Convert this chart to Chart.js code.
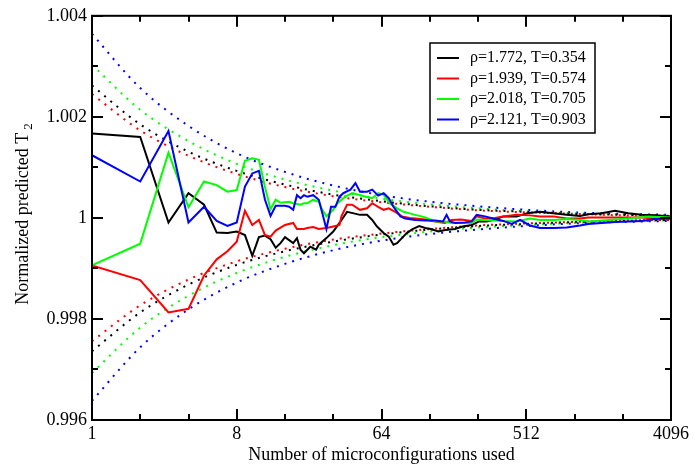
<!DOCTYPE html>
<html>
<head>
<meta charset="utf-8">
<script src="https://cdn.jsdelivr.net/npm/chart.js@4.4.1/dist/chart.umd.min.js"></script>
<style>
  html, body { margin: 0; padding: 0; background: #fff; }
  #wrap { width: 694px; height: 466px; }
</style>
</head>
<body>
<div id="wrap"><canvas id="chart"></canvas></div>
<script>
// axis ticks
const xTicks = [1, 8, 64, 512, 4096];
const xMinorTicks = [2, 4, 16, 32, 128, 256, 1024, 2048];
const yTicks = [0.996, 0.998, 1, 1.002, 1.004];
const yMinorTicks = [0.997, 0.999, 1.001, 1.003];

const seriesLabels = ['ρ=1.772, T=0.354', 'ρ=1.939, T=0.574', 'ρ=2.018, T=0.705', 'ρ=2.121, T=0.903'];

// rho=1.772 (black)
const blackN = [1, 2, 3, 4, 5, 6, 7, 8, 9, 10, 11, 12, 13, 14, 15, 16,
  18, 19, 20, 21, 23, 25, 26, 29, 32, 35, 39, 43, 47, 52, 56, 60, 66, 71, 76, 80, 84, 92,
  100, 110, 120, 130, 145, 160, 184, 205, 234, 260, 290, 330,
  368, 446, 520, 624, 755, 915, 1108,
  1249, 1514, 1832, 2218, 2688, 3254, 4096];
const blackVals = [1.00167, 1.00160, 0.99991, 1.00049, 1.00026, 0.99971, 0.99970, 0.99973, 0.99966, 0.99925, 0.99962, 0.99965, 0.99958, 0.99941, 0.99950, 0.99962,
  0.99950, 0.99960, 0.99937, 0.99930, 0.99943, 0.99937, 0.99947, 0.99960, 0.99973, 0.99990, 1.00012, 1.00009, 1.00006, 1.00006, 0.99996, 0.99983, 0.99970, 0.99963, 0.99947, 0.99950, 0.99957, 0.99970,
  0.99978, 0.99984, 0.99980, 0.99978, 0.99973, 0.99976, 0.99978, 0.99983, 0.99986, 0.99993, 0.99993, 0.99997,
  1.00003, 1.00003, 1.00009, 1.00012, 1.00009, 1.00006, 1.00004,
  1.00007, 1.00009, 1.00014, 1.00009, 1.00006, 1.00005, 1.00003];

// rho=1.939 (red)
const redN = [1, 2, 3, 4, 5, 6, 7, 8, 9, 10, 11, 12, 13, 14,
  16, 18, 19, 21, 22, 24, 26, 29, 32, 35, 36, 39, 42, 47, 52, 56, 61, 66, 71, 78, 86, 96,
  104, 120, 138, 159, 175, 200, 234, 251, 283, 327,
  368, 446, 540, 624, 755, 915, 1108,
  1249, 1832, 2688, 3254, 4096];
const redVals = [0.99906, 0.99877, 0.99813, 0.99820, 0.99886, 0.99918, 0.99934, 0.99953, 1.00014, 0.99986, 0.99996, 0.99966, 0.99963, 0.99975,
  0.99986, 0.99990, 0.99978, 0.99978, 0.99980, 0.99982, 0.99978, 0.99980, 0.99983, 0.99986, 1.00003, 1.00026, 1.00026, 1.00016, 1.00019, 1.00029, 1.00022, 1.00016, 1.00019, 1.00012, 1.00003, 1.00000,
  0.99999, 0.99997, 0.99993, 0.99990, 0.99996, 0.99997, 0.99994, 1.00003, 0.99999, 1.00000,
  1.00003, 1.00006, 1.00005, 1.00003, 1.00003, 0.99999, 0.99999,
  1.00001, 1.00001, 1.00001, 0.99999, 0.99999];

// rho=2.018 (green)
const greenN = [1, 2, 3, 4, 5, 6, 7, 8, 9, 10, 11, 12, 13, 14, 15,
  17, 18, 20, 21, 22, 24, 26, 27, 29, 32, 34, 38, 42, 46, 51, 56, 61, 66, 72, 80, 88, 96,
  104, 120, 138, 159, 175, 200, 234, 251, 283, 327,
  368, 446, 540, 624, 755, 915, 1108,
  1249, 1676, 2218, 2956, 4096];
const greenVals = [0.99906, 0.99949, 1.00129, 1.00021, 1.00072, 1.00065, 1.00052, 1.00055, 1.00113, 1.00118, 1.00115, 1.00061, 1.00017, 1.00036, 1.00030,
  1.00032, 1.00029, 1.00026, 1.00029, 1.00029, 1.00036, 1.00032, 1.00019, 1.00003, 1.00016, 1.00029, 1.00042, 1.00049, 1.00046, 1.00042, 1.00039, 1.00049, 1.00046, 1.00029, 1.00019, 1.00012, 1.00009,
  1.00006, 1.00001, 0.99993, 0.99993, 0.99990, 0.99990, 0.99990, 0.99997, 0.99996, 0.99995,
  0.99994, 0.99993, 0.99999, 0.99996, 0.99996, 0.99998, 0.99996,
  0.99993, 0.99996, 0.99999, 1.00003, 1.00001];

// rho=2.121 (blue)
const blueN = [1, 2, 3, 4, 5, 6, 7, 8, 9, 10, 11, 12, 13, 14, 15, 16, 17, 18, 19, 20, 21, 22,
  24, 26, 27, 29, 31, 33, 35, 37, 41, 44, 47, 52, 56, 61, 66, 71, 76, 84, 90,
  104, 120, 138, 155, 163, 171, 184, 212, 234, 251, 283, 327,
  368, 415, 468, 540, 624, 755, 915, 1108,
  1249, 1832, 2688, 3254, 4096];
const blueVals = [1.00124, 1.00072, 1.00172, 0.99991, 1.00022, 0.99994, 0.99984, 0.99991, 1.00062, 1.00088, 1.00093, 1.00036, 1.00004, 1.00024, 1.00024, 1.00024, 1.00022, 1.00016, 1.00045, 1.00039, 1.00045, 1.00042,
  1.00045, 1.00036, 1.00016, 0.99978, 1.00022, 1.00022, 1.00042, 1.00049, 1.00056, 1.00069, 1.00052, 1.00052, 1.00056, 1.00044, 1.00049, 1.00039, 1.00022, 1.00003, 0.99999,
  0.99996, 0.99995, 0.99995, 0.99993, 1.00006, 0.99993, 0.99990, 0.99991, 0.99993, 1.00006, 1.00003, 0.99998,
  0.99994, 0.99988, 0.99996, 0.99985, 0.99980, 0.99980, 0.99981, 0.99985,
  0.99988, 0.99992, 0.99994, 0.99998, 0.99999];

// dotted error envelopes, read at powers of two
const envN = [1, 2, 4, 8, 16, 32, 64, 128, 256, 512, 1024, 2048, 4096];
const blackUpper = [1.00262, 1.00185, 1.00131, 1.00093, 1.00066, 1.00046, 1.00033, 1.00023, 1.00016, 1.00012, 1.00008, 1.00006, 1.00004];
const blackLower = [0.99736, 0.99813, 0.99868, 0.99907, 0.99934, 0.99953, 0.99967, 0.99977, 0.99984, 0.99988, 0.99992, 0.99994, 0.99996];
const redUpper = [1.00245, 1.00173, 1.00123, 1.00087, 1.00061, 1.00043, 1.00031, 1.00022, 1.00015, 1.00011, 1.00008, 1.00005, 1.00004];
const redLower = [0.99756, 0.99827, 0.99878, 0.99914, 0.99939, 0.99957, 0.99969, 0.99978, 0.99985, 0.99989, 0.99992, 0.99995, 0.99996];
const greenUpper = [1.00303, 1.00214, 1.00152, 1.00107, 1.00076, 1.00054, 1.00038, 1.00027, 1.00019, 1.00013, 1.00009, 1.00007, 1.00005];
const greenLower = [0.99693, 0.99783, 0.99846, 0.99891, 0.99923, 0.99946, 0.99962, 0.99973, 0.99981, 0.99986, 0.99990, 0.99993, 0.99995];
const blueUpper = [1.00364, 1.00257, 1.00182, 1.00128, 1.00091, 1.00064, 1.00045, 1.00032, 1.00023, 1.00016, 1.00011, 1.00008, 1.00006];
const blueLower = [0.99638, 0.99744, 0.99819, 0.99872, 0.99909, 0.99936, 0.99955, 0.99968, 0.99977, 0.99984, 0.99989, 0.99992, 0.99994];

const COLORS = ['#000000', '#ff0000', '#00ff00', '#0000ff'];
const SERIF = '"Liberation Serif", "Times New Roman", serif';

function pts(xs, ys) {
    return xs.map((x, i) => ({ x: x, y: ys[i] }));
}

function solid(label, xs, ys, color, order) {
    return {
        label: label,
        data: pts(xs, ys),
        borderColor: color,
        borderWidth: 2,
        pointRadius: 0,
        tension: 0,
        fill: false,
        order: order
    };
}

function dotted(xs, ys, color) {
    return {
        label: '',
        data: pts(xs, ys),
        borderColor: color,
        borderWidth: 2,
        borderDash: [2, 6],
        pointRadius: 0,
        cubicInterpolationMode: 'monotone',
        fill: false,
        order: 10
    };
}

const datasets = [
    dotted(envN, blackUpper, COLORS[0]), dotted(envN, blackLower, COLORS[0]),
    dotted(envN, redUpper, COLORS[1]), dotted(envN, redLower, COLORS[1]),
    dotted(envN, greenUpper, COLORS[2]), dotted(envN, greenLower, COLORS[2]),
    dotted(envN, blueUpper, COLORS[3]), dotted(envN, blueLower, COLORS[3]),
    solid(seriesLabels[0], blackN, blackVals, COLORS[0], 3),
    solid(seriesLabels[1], redN, redVals, COLORS[1], 2),
    solid(seriesLabels[2], greenN, greenVals, COLORS[2], 1),
    solid(seriesLabels[3], blueN, blueVals, COLORS[3], 0)
];

// frame + inward ticks on all four sides
const framePlugin = {
    id: 'frame',
    afterDatasetsDraw(chart) {
        const ctx = chart.ctx;
        const a = chart.chartArea;
        const xs = chart.scales.x, ys = chart.scales.y;
        ctx.save();
        ctx.strokeStyle = '#000';
        ctx.lineWidth = 2;
        ctx.beginPath();
        const tick = (vals, len) => {
            vals.forEach(v => {
                const px = Math.round(xs.getPixelForValue(v));
                ctx.moveTo(px, a.bottom); ctx.lineTo(px, a.bottom - len);
                ctx.moveTo(px, a.top); ctx.lineTo(px, a.top + len);
            });
        };
        const ytick = (vals, len) => {
            vals.forEach(v => {
                const py = Math.round(ys.getPixelForValue(v));
                ctx.moveTo(a.left, py); ctx.lineTo(a.left + len, py);
                ctx.moveTo(a.right, py); ctx.lineTo(a.right - len, py);
            });
        };
        tick(xTicks, 11);
        tick(xMinorTicks, 6);
        ytick(yTicks, 11);
        ytick(yMinorTicks, 6);
        ctx.stroke();
        ctx.strokeRect(a.left, a.top, a.right - a.left, a.bottom - a.top);
        ctx.restore();
    }
};

// boxed legend inside the plot
const legendPlugin = {
    id: 'boxLegend',
    afterDatasetsDraw(chart) {
        const ctx = chart.ctx;
        const bx = 430, by = 43, bw = 165, bh = 90;
        ctx.save();
        ctx.fillStyle = '#fff';
        ctx.fillRect(bx, by, bw, bh);
        ctx.strokeStyle = '#000';
        ctx.lineWidth = 1.5;
        ctx.strokeRect(bx, by, bw, bh);
        ctx.font = '16px ' + SERIF;
        ctx.textBaseline = 'middle';
        ctx.fillStyle = '#000';
        seriesLabels.forEach((lab, i) => {
            const y = by + 15 + i * 20.5;
            ctx.strokeStyle = COLORS[i];
            ctx.lineWidth = 2;
            ctx.beginPath();
            ctx.moveTo(bx + 7, y);
            ctx.lineTo(bx + 29, y);
            ctx.stroke();
            ctx.fillText(lab, bx + 40, y);
        });
        ctx.restore();
    }
};

// rotated y title with subscript
const yTitlePlugin = {
    id: 'yTitle',
    afterDraw(chart) {
        const ctx = chart.ctx;
        const main = 'Normalized predicted T';
        const sub = '2';
        ctx.save();
        ctx.fillStyle = '#000';
        ctx.font = '18px ' + SERIF;
        const w1 = ctx.measureText(main).width;
        ctx.font = '13px ' + SERIF;
        const w2 = ctx.measureText(sub).width;
        const gap = 3;
        const total = w1 + gap + w2;
        ctx.translate(28, 214);
        ctx.rotate(-Math.PI / 2);
        ctx.textBaseline = 'alphabetic';
        ctx.font = '18px ' + SERIF;
        ctx.fillText(main, -total / 2, 0);
        ctx.font = '13px ' + SERIF;
        ctx.fillText(sub, -total / 2 + w1 + gap, 4);
        ctx.restore();
    }
};

new Chart(document.getElementById('chart'), {
    type: 'line',
    data: { datasets: datasets },
    options: {
        responsive: true,
        maintainAspectRatio: false,
        animation: false,
        devicePixelRatio: 1,
        layout: { padding: { top: 15, right: 23, bottom: 0, left: 0 } },
        plugins: {
            legend: { display: false },
            tooltip: { enabled: false }
        },
        scales: {
            x: {
                type: 'logarithmic',
                min: 1,
                max: 4096,
                grid: { display: false, drawTicks: false },
                border: { display: false },
                afterBuildTicks: (scale) => {
                    scale.ticks = xTicks.map(v => ({ value: v }));
                },
                afterFit: (scale) => { scale.height = 46; },
                ticks: {
                    autoSkip: false,
                    maxRotation: 0,
                    padding: 3,
                    color: '#000',
                    font: { family: SERIF, size: 18 },
                    callback: (v) => String(v)
                },
                title: {
                    display: true,
                    text: 'Number of microconfigurations used',
                    color: '#000',
                    font: { family: SERIF, size: 18 },
                    padding: { top: 0, bottom: 0 }
                }
            },
            y: {
                type: 'linear',
                min: 0.996,
                max: 1.004,
                grid: { display: false, drawTicks: false },
                border: { display: false },
                afterBuildTicks: (scale) => {
                    scale.ticks = yTicks.map(v => ({ value: v }));
                },
                afterFit: (scale) => { scale.width = 92; },
                ticks: {
                    padding: 5,
                    color: '#000',
                    font: { family: SERIF, size: 18 },
                    callback: (v) => String(Number(v.toFixed(3)))
                }
            }
        }
    },
    plugins: [framePlugin, legendPlugin, yTitlePlugin]
});
</script>
</body>
</html>
